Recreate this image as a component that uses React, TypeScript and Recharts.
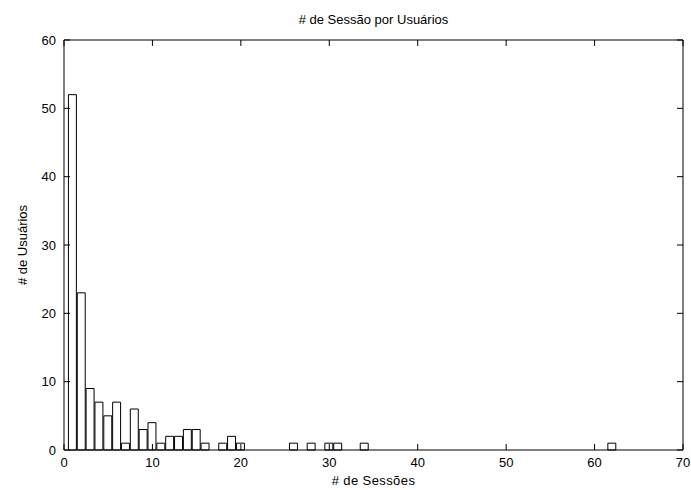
import { BarChart, Bar, XAxis, YAxis, ReferenceLine, Label } from "recharts"

// histogram: number of sessions -> number of users
const sessions = [1, 2, 3, 4, 5, 6, 7, 8, 9, 10, 11, 12, 13, 14, 15, 16, 18, 19, 20, 26, 28, 30, 31, 34, 62]
const users = [52, 23, 9, 7, 5, 7, 1, 6, 3, 4, 1, 2, 2, 3, 3, 1, 1, 2, 1, 1, 1, 1, 1, 1, 1]
const xTicks = [0, 10, 20, 30, 40, 50, 60, 70]
const yTicks = [0, 10, 20, 30, 40, 50, 60]

const W = 691
const H = 490
const PL = 64
const PR = 683
const PT = 40
const PB = 450
const FONT = "'Liberation Sans', Arial, Helvetica, sans-serif"
const FS = 13

const data = sessions.map((s, i) => ({ s, n: users[i] }))

const YTick = (props: any) => {
  const { y, payload } = props
  return (
    <g>
      <text x={PL - 8} y={y} dy={4.5} textAnchor="end" fontSize={FS} fontFamily={FONT} fill="#000">
        {payload.value}
      </text>
      <line x1={PL} x2={PL + 6} y1={y} y2={y} stroke="#000" />
      <line x1={PR - 6} x2={PR} y1={y} y2={y} stroke="#000" />
    </g>
  )
}

const XTick = (props: any) => {
  const { x, payload } = props
  return (
    <g>
      <text x={x} y={PB + 17} textAnchor="middle" fontSize={FS} fontFamily={FONT} fill="#000">
        {payload.value}
      </text>
      <line x1={x} x2={x} y1={PB} y2={PB - 6} stroke="#000" />
      <line x1={x} x2={x} y1={PT} y2={PT + 6} stroke="#000" />
    </g>
  )
}

export default function App() {
  return (
    <div style={{ position: "absolute", left: 0, top: 0, width: W, height: H, background: "#fff" }}>
      <div
        style={{
          position: "absolute",
          left: PL,
          width: PR - PL,
          top: 13,
          textAlign: "center",
          fontFamily: FONT,
          fontSize: FS,
          lineHeight: "14px",
          color: "#000",
        }}
      >
        # de Sessão por Usuários
      </div>
      <BarChart
        width={W}
        height={H}
        data={data}
        margin={{ top: PT, right: W - PR, bottom: 0, left: 0 }}
        barCategoryGap={0}
        barGap={0}
      >
        <XAxis
          dataKey="s"
          type="number"
          domain={[0, 70]}
          ticks={xTicks}
          interval={0}
          height={H - PB}
          axisLine={{ stroke: "#000" }}
          tickLine={false}
          tick={<XTick />}
        >
          <Label
            value="# de Sessões"
            position="insideBottom"
            offset={5}
            style={{ fontSize: FS, fontFamily: FONT, fill: "#000", letterSpacing: 0.4 }}
          />
        </XAxis>
        <YAxis
          type="number"
          domain={[0, 60]}
          ticks={yTicks}
          interval={0}
          width={PL}
          axisLine={{ stroke: "#000" }}
          tickLine={false}
          tick={<YTick />}
        >
          <Label
            value="# de Usuários"
            angle={-90}
            position="insideLeft"
            offset={22}
            style={{ fontSize: FS, fontFamily: FONT, fill: "#000", textAnchor: "middle" }}
          />
        </YAxis>
        <ReferenceLine y={60} stroke="#000" />
        <ReferenceLine x={70} stroke="#000" />
        <Bar
          dataKey="n"
          fill="#fff"
          stroke="#000"
          strokeWidth={1}
          barSize={(PR - PL) / 70}
          isAnimationActive={false}
        />
      </BarChart>
    </div>
  )
}
